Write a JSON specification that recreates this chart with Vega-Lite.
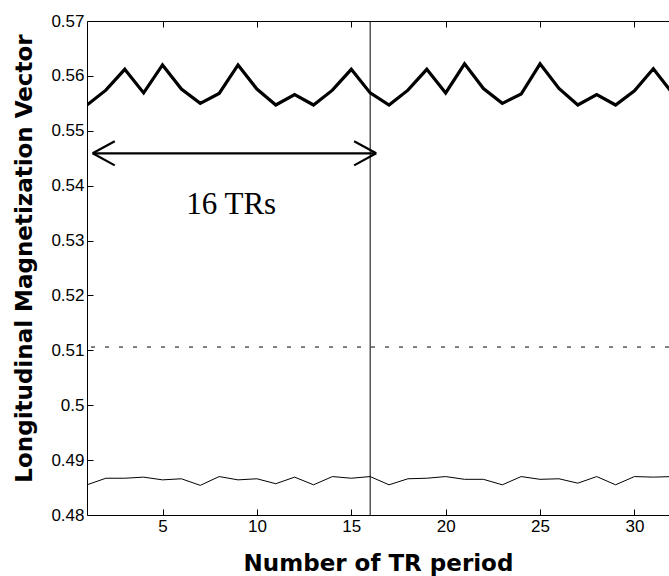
{
  "$schema": "https://vega.github.io/schema/vega-lite/v6.json",
  "autosize": {"type": "none"},
  "padding": {"left": 87, "top": 21, "right": 0, "bottom": 61},
  "width": 582,
  "height": 494,
  "background": "white",
  "config": {
    "view": {"stroke": null},
    "axis": {"grid": false, "domainColor": "black", "tickColor": "black", "labelColor": "black", "titleColor": "black", "labelFont": "Liberation Sans", "labelFontSize": 17, "titleFont": "DejaVu Sans", "titleFontWeight": "bold", "titleFontSize": 23, "domainWidth": 1, "tickWidth": 1}
  },
  "resolve": {"axis": {"x": "independent", "y": "independent"}},
  "datasets": {
    "series": [
      {"x": 1, "y": 0.5547, "s": "thick"}, {"x": 2, "y": 0.5574, "s": "thick"}, {"x": 3, "y": 0.5612, "s": "thick"}, {"x": 4, "y": 0.5569, "s": "thick"},
      {"x": 5, "y": 0.5620, "s": "thick"}, {"x": 6, "y": 0.5576, "s": "thick"}, {"x": 7, "y": 0.5550, "s": "thick"}, {"x": 8, "y": 0.5568, "s": "thick"},
      {"x": 9, "y": 0.5620, "s": "thick"}, {"x": 10, "y": 0.5576, "s": "thick"}, {"x": 11, "y": 0.5547, "s": "thick"}, {"x": 12, "y": 0.5566, "s": "thick"},
      {"x": 13, "y": 0.5547, "s": "thick"}, {"x": 14, "y": 0.5574, "s": "thick"}, {"x": 15, "y": 0.5612, "s": "thick"}, {"x": 16, "y": 0.5569, "s": "thick"},
      {"x": 17, "y": 0.5547, "s": "thick"}, {"x": 18, "y": 0.5574, "s": "thick"}, {"x": 19, "y": 0.5612, "s": "thick"}, {"x": 20, "y": 0.5569, "s": "thick"},
      {"x": 21, "y": 0.5622, "s": "thick"}, {"x": 22, "y": 0.5577, "s": "thick"}, {"x": 23, "y": 0.5550, "s": "thick"}, {"x": 24, "y": 0.5567, "s": "thick"},
      {"x": 25, "y": 0.5622, "s": "thick"}, {"x": 26, "y": 0.5577, "s": "thick"}, {"x": 27, "y": 0.5547, "s": "thick"}, {"x": 28, "y": 0.5566, "s": "thick"},
      {"x": 29, "y": 0.5547, "s": "thick"}, {"x": 30, "y": 0.5573, "s": "thick"}, {"x": 31, "y": 0.5613, "s": "thick"}, {"x": 32, "y": 0.5569, "s": "thick"},
      {"x": 1, "y": 0.4855, "s": "thin"}, {"x": 2, "y": 0.4867, "s": "thin"}, {"x": 3, "y": 0.4867, "s": "thin"}, {"x": 4, "y": 0.4869, "s": "thin"},
      {"x": 5, "y": 0.4864, "s": "thin"}, {"x": 6, "y": 0.4866, "s": "thin"}, {"x": 7, "y": 0.4854, "s": "thin"}, {"x": 8, "y": 0.4870, "s": "thin"},
      {"x": 9, "y": 0.4864, "s": "thin"}, {"x": 10, "y": 0.4866, "s": "thin"}, {"x": 11, "y": 0.4857, "s": "thin"}, {"x": 12, "y": 0.4869, "s": "thin"},
      {"x": 13, "y": 0.4855, "s": "thin"}, {"x": 14, "y": 0.4870, "s": "thin"}, {"x": 15, "y": 0.4867, "s": "thin"}, {"x": 16, "y": 0.4870, "s": "thin"},
      {"x": 17, "y": 0.4855, "s": "thin"}, {"x": 18, "y": 0.4866, "s": "thin"}, {"x": 19, "y": 0.4867, "s": "thin"}, {"x": 20, "y": 0.4870, "s": "thin"},
      {"x": 21, "y": 0.4865, "s": "thin"}, {"x": 22, "y": 0.4865, "s": "thin"}, {"x": 23, "y": 0.4855, "s": "thin"}, {"x": 24, "y": 0.4870, "s": "thin"},
      {"x": 25, "y": 0.4865, "s": "thin"}, {"x": 26, "y": 0.4866, "s": "thin"}, {"x": 27, "y": 0.4858, "s": "thin"}, {"x": 28, "y": 0.4870, "s": "thin"},
      {"x": 29, "y": 0.4855, "s": "thin"}, {"x": 30, "y": 0.4870, "s": "thin"}, {"x": 31, "y": 0.4869, "s": "thin"}, {"x": 32, "y": 0.4870, "s": "thin"}
    ],
    "arrow": [
      {"x": 1.3, "y": 0.5459, "x2": 16.32, "y2": 0.5459},
      {"x": 1.3, "y": 0.5459, "x2": 2.47, "y2": 0.5481},
      {"x": 1.3, "y": 0.5459, "x2": 2.47, "y2": 0.5437},
      {"x": 16.32, "y": 0.5459, "x2": 15.15, "y2": 0.5481},
      {"x": 16.32, "y": 0.5459, "x2": 15.15, "y2": 0.5437}
    ]
  },
  "layer": [
    {
      "data": {"values": [{"x": 16}]},
      "mark": {"type": "rule", "color": "black", "strokeWidth": 1},
      "encoding": {
        "x": {"field": "x", "type": "quantitative", "scale": {"domain": [1, 31.83], "nice": false, "zero": false},
          "axis": {"orient": "top", "labels": false, "title": null, "values": [5, 10, 15, 20, 25, 30], "tickSize": -6}}
      }
    },
    {
      "data": {"values": [{"y": 0.5106}]},
      "mark": {"type": "rule", "color": "black", "strokeWidth": 1, "strokeDash": [4, 10]},
      "encoding": {
        "y": {"field": "y", "type": "quantitative", "scale": {"domain": [0.48, 0.57], "nice": false, "zero": false},
          "axis": {"orient": "left", "title": "Longitudinal Magnetization Vector", "values": [0.48, 0.49, 0.5, 0.51, 0.52, 0.53, 0.54, 0.55, 0.56, 0.57], "format": ".2~f", "tickSize": -6, "labelPadding": 9, "titleX": -56, "titleY": 237, "titleBaseline": "alphabetic", "titleAngle": -90}}
      }
    },
    {
      "data": {"name": "series"},
      "transform": [{"filter": "datum.s === 'thick'"}],
      "mark": {"type": "line", "color": "black", "strokeWidth": 3.2, "clip": true},
      "encoding": {
        "x": {"field": "x", "type": "quantitative", "axis": {"orient": "bottom", "title": "Number of TR period", "values": [5, 10, 15, 20, 25, 30], "tickSize": -6, "labelPadding": 9, "titleBaseline": "alphabetic", "titleY": 55}},
        "y": {"field": "y", "type": "quantitative", "axis": null}
      }
    },
    {
      "data": {"name": "series"},
      "transform": [{"filter": "datum.s === 'thin'"}],
      "mark": {"type": "line", "color": "black", "strokeWidth": 1, "clip": true},
      "encoding": {
        "x": {"field": "x", "type": "quantitative", "axis": null},
        "y": {"field": "y", "type": "quantitative", "axis": null}
      }
    },
    {
      "data": {"name": "arrow"},
      "mark": {"type": "rule", "color": "black", "strokeWidth": 2.2},
      "encoding": {
        "x": {"field": "x", "type": "quantitative", "axis": null},
        "y": {"field": "y", "type": "quantitative", "axis": null},
        "x2": {"field": "x2"},
        "y2": {"field": "y2"}
      }
    },
    {
      "data": {"values": [{"x": 8.64, "y": 0.5348, "label": "16 TRs"}]},
      "mark": {"type": "text", "font": "Liberation Serif", "fontSize": 31, "align": "center", "baseline": "alphabetic", "color": "black"},
      "encoding": {
        "x": {"field": "x", "type": "quantitative", "axis": null},
        "y": {"field": "y", "type": "quantitative", "axis": null},
        "text": {"field": "label"}
      }
    }
  ]
}
